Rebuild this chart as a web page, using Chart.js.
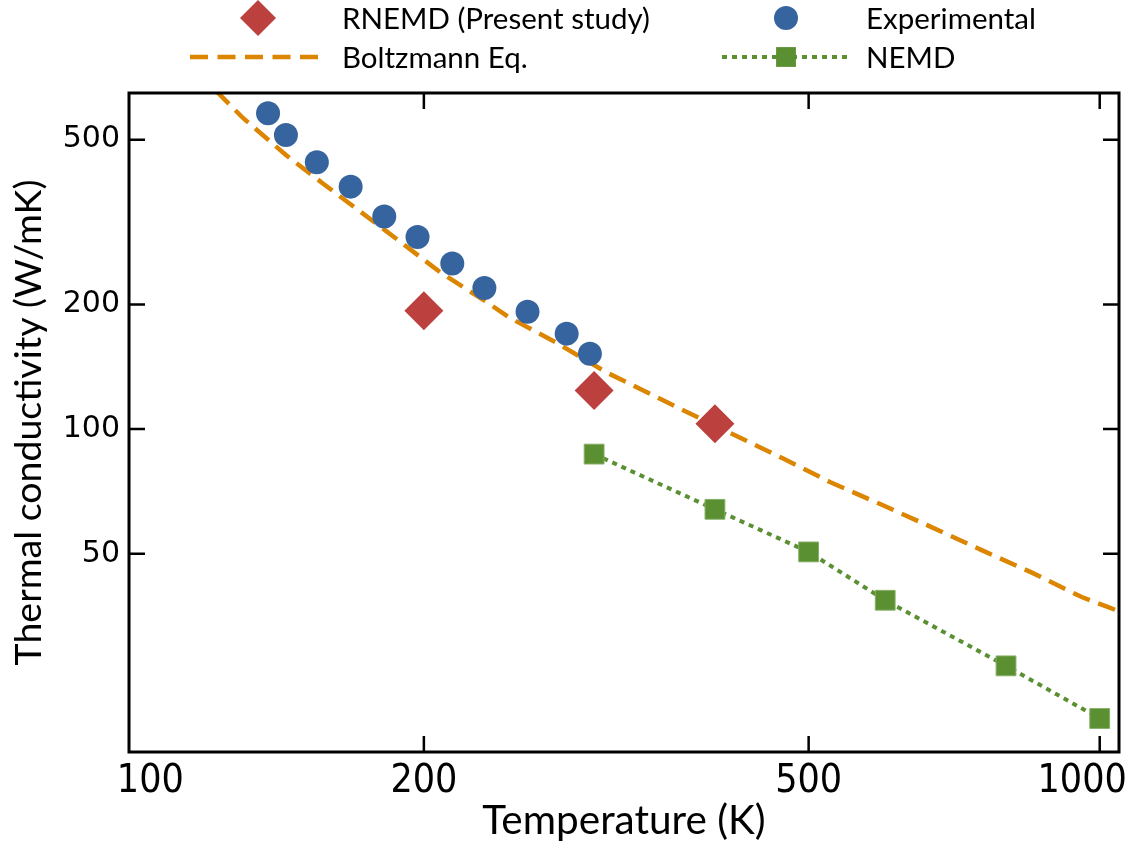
<!DOCTYPE html>
<html>
<head>
<meta charset="utf-8">
<script src="https://cdn.jsdelivr.net/npm/chart.js@4.4.0/dist/chart.umd.min.js"></script>
<style>
  html, body { margin: 0; padding: 0; background: #fff; }
  #wrap { width: 1125px; height: 845px; position: relative; }
</style>
</head>
<body>
<div id="wrap"><canvas id="chart"></canvas></div>
<script>
// RNEMD (present study)
const rnemdT = [200, 300, 400];
const rnemdK = [193, 124, 103];

// Experimental
const expT = [138, 144, 155, 168, 182, 197, 214, 231, 256, 281, 297];
const expK = [579, 513, 441, 385, 326, 291, 251, 219, 192, 170, 152];

// Boltzmann Eq. curve
const boltzT = [122, 130, 144, 157, 187, 208, 232, 245, 275, 309, 347, 368, 470, 526, 592, 663, 755, 851, 958, 1019, 1047];
const boltzK = [655, 564, 459, 393, 289, 239, 203, 186, 161, 137, 120, 112, 85, 74.5, 66, 58.6, 51, 45, 39.3, 37.2, 36.3];

// NEMD
const nemdT = [300, 400, 500, 600, 800, 1000];
const nemdK = [87, 64, 50.5, 38.6, 26.8, 20.0];

// tick labels
const xTicks = [100, 200, 500, 1000];
const yTicks = [50, 100, 200, 500];

const RED = '#BC403E';
const BLUE = '#36649E';
const ORANGE = '#DB8500';
const GREEN = '#5A8F32';

const toPoints = (xs, ys) => xs.map((x, i) => ({ x: x, y: ys[i] }));

// frame + inward ticks on all four sides
const framePlugin = {
    id: 'frame',
    afterDatasetsDraw(chart) {
        const { ctx, chartArea: a, scales: { x, y } } = chart;
        ctx.save();
        ctx.strokeStyle = '#000';
        ctx.lineWidth = 2.5;
        ctx.beginPath();
        xTicks.forEach(v => {
            const px = x.getPixelForValue(v);
            if (px < a.left + 10 || px > a.right - 3) return;
            ctx.moveTo(px, a.bottom); ctx.lineTo(px, a.bottom - 16);
            ctx.moveTo(px, a.top); ctx.lineTo(px, a.top + 16);
        });
        yTicks.forEach(v => {
            const py = y.getPixelForValue(v);
            ctx.moveTo(a.left, py); ctx.lineTo(a.left + 16, py);
            ctx.moveTo(a.right, py); ctx.lineTo(a.right - 16, py);
        });
        ctx.stroke();
        ctx.lineWidth = 3;
        ctx.strokeRect(a.left, a.top, a.right - a.left, a.bottom - a.top);
        ctx.restore();
    }
};

// legend in two rows above the plot
const legendPlugin = {
    id: 'topLegend',
    afterDraw(chart) {
        const ctx = chart.ctx;
        const drawPoint = Chart.helpers.drawPoint;
        ctx.save();
        ctx.font = '29.5px Lato';
        ctx.textBaseline = 'middle';
        ctx.textAlign = 'left';
        ctx.fillStyle = '#000';
        ctx.fillText('RNEMD (Present study)', 342, 19);
        ctx.fillText('Experimental', 866, 19);
        ctx.fillText('Boltzmann Eq.', 342, 58);
        ctx.fillText('NEMD', 866, 58);

        ctx.fillStyle = RED;
        drawPoint(ctx, { pointStyle: 'rectRot', radius: 18, rotation: 0, borderWidth: 0 }, 258, 18);
        ctx.fillStyle = BLUE;
        drawPoint(ctx, { pointStyle: 'circle', radius: 12, rotation: 0, borderWidth: 0 }, 786, 18);

        ctx.lineWidth = 4.5;
        ctx.strokeStyle = ORANGE;
        ctx.setLineDash([18, 9.5]);
        ctx.beginPath(); ctx.moveTo(190, 57); ctx.lineTo(318, 57); ctx.stroke();

        ctx.lineWidth = 4;
        ctx.strokeStyle = GREEN;
        ctx.setLineDash([5, 5]);
        ctx.beginPath(); ctx.moveTo(722, 57); ctx.lineTo(850, 57); ctx.stroke();
        ctx.setLineDash([]);
        ctx.fillStyle = GREEN;
        drawPoint(ctx, { pointStyle: 'rect', radius: 14, rotation: 0, borderWidth: 0 }, 786, 57);
        ctx.restore();
    }
};

const ctx = document.getElementById('chart').getContext('2d');
new Chart(ctx, {
    type: 'scatter',
    data: {
        datasets: [
            {
                label: 'RNEMD (Present study)',
                data: toPoints(rnemdT, rnemdK),
                pointStyle: 'rectRot',
                pointRadius: 19.5,
                backgroundColor: RED,
                borderColor: RED,
                borderWidth: 0
            },
            {
                label: 'Experimental',
                data: toPoints(expT, expK),
                pointStyle: 'circle',
                pointRadius: 12,
                backgroundColor: BLUE,
                borderColor: BLUE,
                borderWidth: 0
            },
            {
                label: 'NEMD',
                data: toPoints(nemdT, nemdK),
                showLine: true,
                borderColor: GREEN,
                borderWidth: 4,
                borderDash: [5, 5],
                pointStyle: 'rect',
                pointRadius: 14,
                pointBackgroundColor: GREEN,
                pointBorderColor: '#86AE66',
                pointBorderWidth: 1
            },
            {
                label: 'Boltzmann Eq.',
                data: toPoints(boltzT, boltzK),
                showLine: true,
                borderColor: ORANGE,
                borderWidth: 4.5,
                borderDash: [18, 9],
                pointRadius: 0,
                tension: 0
            }
        ]
    },
    options: {
        responsive: true,
        maintainAspectRatio: false,
        animation: false,
        events: [],
        layout: { autoPadding: false, padding: { top: 93, right: 6, left: 0, bottom: 0 } },
        scales: {
            x: {
                type: 'logarithmic',
                min: 99.1,
                max: 1047,
                grid: { display: false, drawTicks: false },
                border: { display: false },
                afterBuildTicks: scale => { scale.ticks = xTicks.map(v => ({ value: v })); },
                afterFit: scale => {
                    scale.height = 93;
                    scale.paddingLeft = 0;
                    scale.paddingRight = 0;
                },
                ticks: {
                    autoSkip: false,
                    maxRotation: 0,
                    padding: 6,
                    color: '#000',
                    font: { family: "'Liberation Sans Narrow', 'DejaVu Sans Condensed', Lato", size: 39 },
                    callback: v => v === 100 ? '\u2002\u2002100' : (v === 1000 ? '1000\u2002\u2002' : String(v))
                },
                title: {
                    display: true,
                    text: 'Temperature (K)',
                    color: '#000',
                    font: { family: 'Lato', size: 40.5 },
                    padding: { top: 0, bottom: 0 }
                }
            },
            y: {
                type: 'logarithmic',
                min: 16.6,
                max: 648,
                grid: { display: false, drawTicks: false },
                border: { display: false },
                afterBuildTicks: scale => { scale.ticks = yTicks.map(v => ({ value: v })); },
                afterFit: scale => {
                    scale.width = 129;
                    scale.paddingTop = 0;
                    scale.paddingBottom = 0;
                },
                ticks: {
                    autoSkip: false,
                    padding: 9,
                    color: '#000',
                    font: { family: "'DejaVu Sans'", size: 30 },
                    callback: v => String(v)
                },
                title: {
                    display: true,
                    text: 'Thermal conductivity (W/mK)',
                    color: '#000',
                    font: { family: 'Lato', size: 37.5 },
                    padding: { top: 6, bottom: 0 }
                }
            }
        },
        plugins: {
            legend: { display: false },
            tooltip: { enabled: false }
        }
    },
    plugins: [framePlugin, legendPlugin]
});
</script>
</body>
</html>
